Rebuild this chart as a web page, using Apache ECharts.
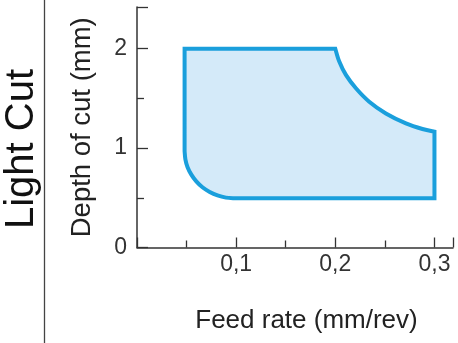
<!DOCTYPE html>
<html><head><meta charset="utf-8">
<script src="https://cdn.jsdelivr.net/npm/echarts@6/dist/echarts.min.js"></script>
<style>html,body{margin:0;padding:0;background:#fff}#c{width:458px;height:343px}</style>
</head><body><div id="c"></div>
<script>
// Outline of the "Light Cut" operating region
// corners
const topLeftCorner = [0.048, 2.0];
const bottomRightCorner = [0.300, 0.495];
// upper-right concave edge, from (0.2, 2) down to the right edge
const upperCurveFeed  = [0.200, 0.204, 0.2107, 0.2208, 0.2342, 0.2510, 0.2712, 0.2879, 0.300];
const upperCurveDepth = [2.000, 1.871, 1.737, 1.602, 1.467, 1.349, 1.249, 1.192, 1.165];
// lower-left rounded corner, from the bottom edge up to the left edge
const lowerCurveFeed  = [0.0985, 0.0897, 0.0812, 0.0733, 0.0660, 0.0598, 0.0548, 0.0510, 0.0488, 0.048];
const lowerCurveDepth = [0.495, 0.502, 0.524, 0.559, 0.606, 0.665, 0.733, 0.808, 0.887, 0.970];
const xTicks = [0.1, 0.2, 0.3];
const yTicks = [0, 1, 2];
const sectionTitle = 'Light Cut';
const xName = 'Feed rate (mm/rev)';
const yName = 'Depth of cut (mm)';

const upper = upperCurveFeed.map((x, i) => [x, upperCurveDepth[i]]);
const lower = lowerCurveFeed.map((x, i) => [x, lowerCurveDepth[i]]);
const allPts = [topLeftCorner].concat(upper, [bottomRightCorner], lower);

function curvePath(p) { // Catmull-Rom through pixel points -> cubic beziers
  let d = '';
  for (let i = 0; i < p.length - 1; i++) {
    const p0 = p[Math.max(i - 1, 0)], p1 = p[i], p2 = p[i + 1], p3 = p[Math.min(i + 2, p.length - 1)];
    const c1 = [p1[0] + (p2[0] - p0[0]) / 6, p1[1] + (p2[1] - p0[1]) / 6];
    const c2 = [p2[0] - (p3[0] - p1[0]) / 6, p2[1] - (p3[1] - p1[1]) / 6];
    d += ' C' + c1[0] + ' ' + c1[1] + ' ' + c2[0] + ' ' + c2[1] + ' ' + p2[0] + ' ' + p2[1];
  }
  return d;
}

const chart = echarts.init(document.getElementById('c'), null, {renderer: 'canvas'});
const font = 'Liberation Sans, Arial, sans-serif';
chart.setOption({
  animation: false,
  grid: {left: 137, top: 7, right: 5, bottom: 95.5},
  xAxis: {
    type: 'value', min: 0, max: 0.3187, interval: 0.1,
    axisLine: {lineStyle: {color: '#333', width: 1.5}},
    axisTick: {inside: true, length: 10, lineStyle: {color: '#333', width: 1.3}},
    minorTick: {show: true, splitNumber: 2, length: 7, lineStyle: {color: '#333', width: 1.3}},
    splitLine: {show: false},
    axisLabel: {
      color: '#333', fontSize: 23, fontFamily: font, margin: 6,
      showMaxLabel: false,
      formatter: v => xTicks.some(t => Math.abs(t - v) < 1e-9) ? v.toFixed(1).replace('.', ',') : ''
    },
    name: xName, nameLocation: 'middle', nameGap: 60,
    nameTextStyle: {color: '#222', fontSize: 26, fontFamily: font, padding: [0, 0, 0, 23]}
  },
  yAxis: {
    type: 'value', min: 0, max: 2.42, interval: 1,
    axisLine: {lineStyle: {color: '#333', width: 1.5}},
    axisTick: {inside: true, length: 11, lineStyle: {color: '#333', width: 1.3}},
    minorTick: {show: true, splitNumber: 2, length: 7, lineStyle: {color: '#333', width: 1.3}},
    splitLine: {show: false},
    axisLabel: {
      color: '#333', fontSize: 23, fontFamily: font, margin: 10, showMaxLabel: false,
      formatter: v => yTicks.indexOf(v) >= 0 ? String(v) : ''
    },
    name: yName, nameLocation: 'middle', nameGap: 41, nameRotate: 90,
    nameTextStyle: {color: '#222', fontSize: 27.5, fontFamily: font}
  },
  graphic: [
    {type: 'line', shape: {x1: 44.5, y1: 0, x2: 44.5, y2: 343}, style: {stroke: '#444', lineWidth: 1.3}},
    {type: 'text', x: 22, y: 149, rotation: Math.PI / 2,
     style: {text: sectionTitle, fill: '#111', font: '40px ' + font, textAlign: 'center', textVerticalAlign: 'middle'}}
  ],
  series: [{
    type: 'custom',
    data: allPts,
    renderItem: (params, api) => {
      if (params.dataIndex !== 0) return null;
      const tl = api.coord(topLeftCorner), br = api.coord(bottomRightCorner);
      const up = upper.map(p => api.coord(p)), lo = lower.map(p => api.coord(p));
      let d = 'M' + lo[lo.length - 1][0] + ' ' + lo[lo.length - 1][1];
      d += ' L' + tl[0] + ' ' + tl[1];
      d += ' L' + up[0][0] + ' ' + up[0][1];
      d += curvePath(up);
      d += ' L' + br[0] + ' ' + br[1];
      d += ' L' + lo[0][0] + ' ' + lo[0][1];
      d += curvePath(lo);
      d += ' Z';
      return {
        type: 'path',
        shape: {pathData: d},
        style: {fill: '#d4eaf9', stroke: '#1a9fdc', lineWidth: 4, lineJoin: 'miter'}
      };
    }
  }]
});
</script></body></html>
